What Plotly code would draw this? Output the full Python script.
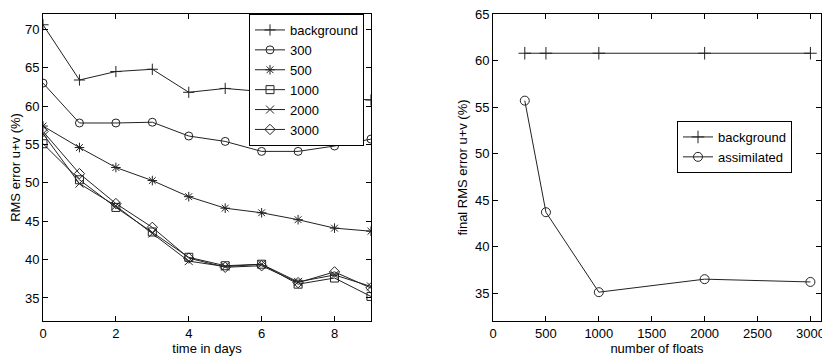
import plotly.graph_objects as go

# left panel: RMS error vs time for each float count
days = [0, 1, 2, 3, 4, 5, 6, 7, 8, 9]
background = [70.6, 63.4, 64.5, 64.8, 61.8, 62.3, 61.9, 61.6, 61.1, 60.8]
floats_300 = [63.0, 57.8, 57.8, 57.9, 56.1, 55.4, 54.1, 54.1, 54.8, 55.7]
floats_500 = [57.4, 54.6, 52.0, 50.3, 48.2, 46.7, 46.1, 45.2, 44.1, 43.7]
floats_1000 = [55.1, 50.4, 46.8, 43.6, 40.3, 39.2, 39.4, 36.8, 37.6, 35.2]
floats_2000 = [56.4, 49.9, 47.0, 43.4, 39.8, 39.1, 39.4, 37.1, 38.0, 36.5]
floats_3000 = [56.7, 51.2, 47.3, 44.2, 40.2, 39.0, 39.2, 37.0, 38.4, 36.3]

# right panel: final RMS error vs number of floats
n_floats = [300, 500, 1000, 2000, 3000]
final_background = [60.8, 60.8, 60.8, 60.8, 60.8]
final_assimilated = [55.7, 43.7, 35.1, 36.5, 36.2]

line_col = "#222222"
font = dict(family="Liberation Sans, Arial, sans-serif", size=13, color="black")

left_series = [
    ("background", background, "cross-thin-open"),
    ("300", floats_300, "circle-open"),
    ("500", floats_500, "asterisk-open"),
    ("1000", floats_1000, "square-open"),
    ("2000", floats_2000, "x-thin-open"),
    ("3000", floats_3000, "diamond-open"),
]

fig = go.Figure()
for name, vals, sym in left_series:
    fig.add_trace(go.Scatter(
        x=days, y=vals, name=name, mode="lines+markers",
        line=dict(color=line_col, width=1),
        marker=dict(symbol=sym, size=8, color=line_col, line=dict(width=1, color=line_col)),
        legend="legend", xaxis="x", yaxis="y"))

fig.add_trace(go.Scatter(
    x=n_floats, y=final_background, name="background", mode="lines+markers",
    line=dict(color=line_col, width=1),
    marker=dict(symbol="cross-thin-open", size=9, line=dict(width=1, color=line_col)),
    legend="legend2", xaxis="x2", yaxis="y2"))
fig.add_trace(go.Scatter(
    x=n_floats, y=final_assimilated, name="assimilated", mode="lines+markers",
    line=dict(color=line_col, width=1),
    marker=dict(symbol="circle-open", size=9, line=dict(width=1, color=line_col)),
    legend="legend2", xaxis="x2", yaxis="y2"))

axis_style = dict(showline=True, linecolor="black", linewidth=1, mirror="ticks",
                  ticks="inside", ticklen=5, tickcolor="black", showgrid=False,
                  zeroline=False, tickfont=font, title_font=font, automargin=False,
                  ticklabeloverflow="allow")

# the page body adds an 8px margin, so the figure is 8px smaller than the window
W, H = 822, 350
y_dom = [1 - 313 / H, 1 - 6 / H]

fig.update_layout(
    width=W, height=H,
    margin=dict(l=0, r=0, t=0, b=0),
    paper_bgcolor="white", plot_bgcolor="white",
    font=font,
    xaxis=dict(axis_style, domain=[35 / W, 363 / W], range=[0, 9.001],
               tickvals=[0, 2, 4, 6, 8], title=dict(text="time in days", standoff=4)),
    yaxis=dict(axis_style, domain=y_dom, range=[32, 72],
               tickvals=[35, 40, 45, 50, 55, 60, 65, 70],
               title=dict(text="RMS error u+v (%)", standoff=4)),
    xaxis2=dict(axis_style, domain=[485 / W, 813 / W], range=[-0.5, 3100],
                tickvals=[0, 500, 1000, 1500, 2000, 2500, 3000],
                title=dict(text="number of floats", standoff=4), anchor="y2"),
    yaxis2=dict(axis_style, domain=y_dom, range=[32, 65.02],
                tickvals=[35, 40, 45, 50, 55, 60, 65],
                title=dict(text="final RMS error u+v (%)", standoff=4), anchor="x2"),
    legend=dict(x=241 / W, y=1 - 6 / H, xanchor="left", yanchor="top",
                bgcolor="white", bordercolor="black", borderwidth=1,
                font=font, tracegroupgap=0, itemwidth=30),
    legend2=dict(x=669 / W, y=1 - 113 / H, xanchor="left", yanchor="top",
                 bgcolor="white", bordercolor="black", borderwidth=1,
                 font=font, itemwidth=30),
)

fig.write_html("out.html")
